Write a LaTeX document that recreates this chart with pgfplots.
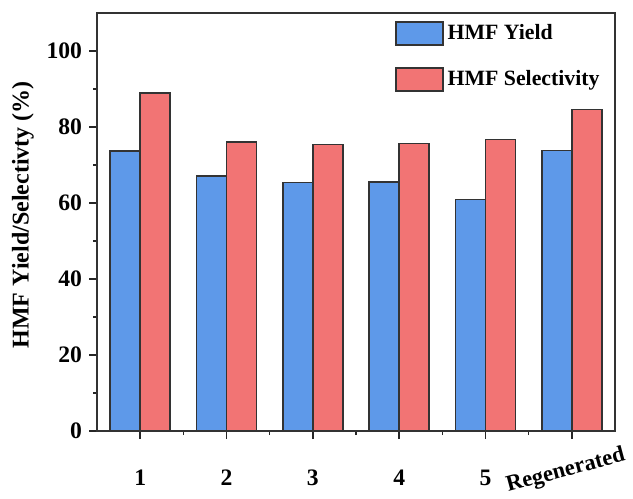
\documentclass[border=0pt]{standalone}
\usepackage{fontspec}
\setmainfont{Liberation Serif}
\usepackage{pgfplots}
\pgfplotsset{compat=1.18}
\usepackage{graphicx}
\definecolor{cblue}{HTML}{5E99E9}
\definecolor{cred}{HTML}{F27474}
\begin{document}
\begin{tikzpicture}
\begin{axis}[name=ax, scale only axis, width=259pt, height=209pt,
  ybar=0pt, bar width=15pt,
  xmin=0.5, xmax=6.5, ymin=0, ymax=110,
  xtick={1,...,6}, xticklabels={1,2,3,4,5,{\raisebox{3.5pt}[\height][\depth]{\rotatebox{15}{\fontsize{11.3}{13}\selectfont Regenerated}}\hspace*{6pt}}},
  minor xtick={1.5,2.5,3.5,4.5,5.5},
  ytick={0,20,...,100}, minor ytick={10,30,...,90},
  xtick pos=bottom, ytick pos=left, tick align=outside,
  major tick length=4pt, minor tick length=2pt,
  every tick/.style={black!85, line width=0.8pt},
  axis line style={line width=1pt, black!80},
  /pgf/number format/assume math mode=true,
  tick label style={font=\bfseries\fontsize{11.8}{13}\selectfont},
  xticklabel style={anchor=center, inner sep=0pt, yshift=-19.5pt},
  ylabel={HMF Yield/Selectivty (\%)},
  ylabel style={font=\bfseries\fontsize{12}{13}\selectfont, at={(axis description cs:-0.1429,0.517)}, anchor=center},
  legend style={draw=none, fill=none, at={(axis description cs:0.575,0.983)}, anchor=north west,
    font=\bfseries\fontsize{10.9}{12}\selectfont, row sep=10pt, inner sep=0pt},
  legend cell align=left,
  legend image code/.code={\draw[#1, draw=black!80, line width=0.7pt] (0pt,-5.75pt) rectangle (23.5pt,5.75pt);},
]
\addplot[fill=cblue, draw=black!80, line width=0.7pt] coordinates {(1,73.7) (2,67.1) (3,65.4) (4,65.5) (5,60.9) (6,73.8)};
\addplot[fill=cred, draw=black!80, line width=0.7pt] coordinates {(1,89.0) (2,76.1) (3,75.4) (4,75.6) (5,76.7) (6,84.6)};
\legend{HMF Yield, HMF Selectivity}
\end{axis}
\pgfresetboundingbox
\path ([shift={(-48.5pt,-33.5pt)}]ax.south west) rectangle ([shift={(9pt,6.5pt)}]ax.north east);
\end{tikzpicture}
\end{document}
